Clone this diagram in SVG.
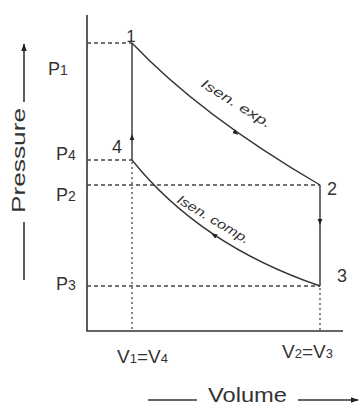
<svg xmlns="http://www.w3.org/2000/svg" width="361" height="408" viewBox="0 0 361 408">
<style>
.ax{stroke:#333;stroke-width:1.6;fill:none}
.dash{stroke:#444;stroke-width:1.3;stroke-dasharray:4 3;fill:none}
.dot{stroke:#555;stroke-width:1.4;stroke-dasharray:2 3;fill:none}
.proc{stroke:#333;stroke-width:1.4;fill:none}
.lbl{font-family:"Liberation Sans",Arial,sans-serif;fill:#333}
.it{font-family:"Liberation Sans",Arial,sans-serif;font-style:italic;fill:#333}
</style>
<defs>
<marker id="ah" viewBox="0 0 10 10" refX="5" refY="5" markerWidth="6" markerHeight="6" orient="auto"><path d="M0,1 L10,5 L0,9 z" fill="#222"/></marker>
<marker id="axh" viewBox="0 0 10 10" refX="9" refY="5" markerWidth="5" markerHeight="5" orient="auto"><path d="M0,1.5 L10,5 L0,8.5 z" fill="#222"/></marker>
</defs>
<rect width="361" height="408" fill="#fff"/>
<g id="axes">
<path class="ax" d="M87,15 V331 H343"/>
</g>
<g id="guides">
<path class="dash" d="M87,43 H132"/>
<path class="dash" d="M87,160 H132"/>
<path class="dash" d="M87,185 H320"/>
<path class="dash" d="M87,286 H320"/>
<path class="dot" d="M132,162 V331"/>
<path class="dot" d="M320,288 V331"/>
</g>
<g id="connectors">
<path class="proc" d="M132,43 Q200,115 320,185"/>
<path class="proc" d="M320,185 V286"/>
<path class="proc" d="M320,286 Q200,245 132,160"/>
<path class="proc" d="M132,160 V43"/>
<path d="M228,127 L236,133" stroke="none" fill="none" marker-end="url(#ah)"/>
<path d="M222,240 L214,235" stroke="none" fill="none" marker-end="url(#ah)"/>
<path d="M132,145 L132,137" stroke="none" fill="none" marker-end="url(#ah)"/>
<path d="M320,214 L320,222" stroke="none" fill="none" marker-end="url(#ah)"/>
</g>
<g id="node-1"><text class="lbl" x="131" y="42" font-size="17" text-anchor="middle">1</text></g>
<g id="node-2"><text class="lbl" x="327" y="195" font-size="18">2</text></g>
<g id="node-3"><text class="lbl" x="337" y="282" font-size="18">3</text></g>
<g id="node-4"><text class="lbl" x="112" y="153" font-size="18">4</text></g>
<g id="p-labels">
<text class="lbl" x="48" y="75" font-size="18">P<tspan font-size="14">1</tspan></text>
<text class="lbl" x="56" y="160" font-size="18">P<tspan font-size="14">4</tspan></text>
<text class="lbl" x="56" y="201" font-size="18">P<tspan font-size="14">2</tspan></text>
<text class="lbl" x="56" y="290" font-size="18">P<tspan font-size="14">3</tspan></text>
</g>
<g id="v-labels">
<text class="lbl" x="117" y="363" font-size="19">V<tspan font-size="13">1</tspan>=V<tspan font-size="13">4</tspan></text>
<text class="lbl" x="282" y="358" font-size="19">V<tspan font-size="13">2</tspan>=V<tspan font-size="13">3</tspan></text>
</g>
<g id="process-labels">
<text class="it" x="200" y="86" font-size="13" transform="rotate(32 200 86)" textLength="80" lengthAdjust="spacingAndGlyphs">Isen. exp.</text>
<text class="it" x="176" y="202" font-size="13" transform="rotate(31 176 202)" textLength="82" lengthAdjust="spacingAndGlyphs">Isen. comp.</text>
</g>
<g id="axis-titles">
<text class="lbl" x="208" y="402" font-size="20" textLength="79" lengthAdjust="spacingAndGlyphs">Volume</text>
<path class="ax" d="M148,400 H197"/>
<path class="ax" d="M298,400 H358" marker-end="url(#axh)"/>
<text class="lbl" x="0" y="0" font-size="19" transform="translate(25 213) rotate(-90)" textLength="105" lengthAdjust="spacingAndGlyphs">Pressure</text>
<path class="ax" d="M24,102 V44" marker-end="url(#axh)"/>
<path class="ax" d="M24,222 V280"/>
</g>
</svg>
